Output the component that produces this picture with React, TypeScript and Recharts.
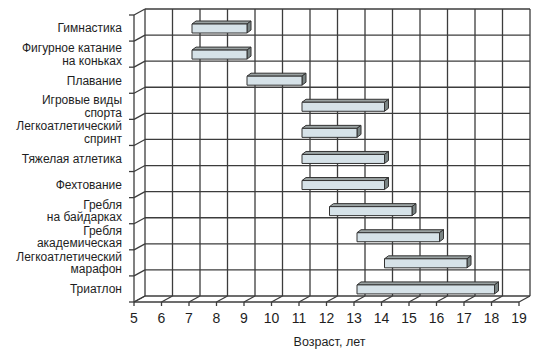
import React from "react";
import { Bar, BarChart, CartesianGrid, XAxis, YAxis } from "recharts";

const sports = [
  "Гимнастика",
  "Фигурное катание\nна коньках",
  "Плавание",
  "Игровые виды\nспорта",
  "Легкоатлетический\nспринт",
  "Тяжелая атлетика",
  "Фехтование",
  "Гребля\nна байдарках",
  "Гребля\nакадемическая",
  "Легкоатлетический\nмарафон",
  "Триатлон",
];
const startAges = [7, 7, 9, 11, 11, 11, 11, 12, 13, 14, 13];
const endAges = [9, 9, 11, 14, 13, 14, 14, 15, 16, 17, 18];
const ageTicks = [5, 6, 7, 8, 9, 10, 11, 12, 13, 14, 15, 16, 17, 18, 19];

const data = sports.map((name, i) => ({ name, from: startAges[i], to: endAges[i] }));

// depth of the fake 3d box
const DX = 11;
const DY = -6;
const LINE = "#3c3c3c";
const FONT = "'Liberation Sans', Arial, sans-serif";

function CategoryTick(props: any) {
  const { x, y, payload } = props;
  const lines = String(payload.value).split("\n");
  const lh = 12.5;
  const first = y - ((lines.length - 1) * lh) / 2;
  return (
    <text x={x} y={first} textAnchor="end" fontSize={12} fontFamily={FONT} fill="#1e1e1e">
      {lines.map((l, i) => (
        <tspan key={i} x={x} y={first + i * lh} dy="0.36em">
          {l}
        </tspan>
      ))}
    </text>
  );
}

function BoxBar(props: any) {
  const { x, y, width, height } = props;
  if (!width) return null;
  const fx = x + 3;
  const d = 4;
  return (
    <g stroke="#333" strokeWidth={1} strokeLinejoin="round">
      <polygon
        points={`${fx},${y} ${fx + width},${y} ${fx + width + d},${y - 3} ${fx + d},${y - 3}`}
        fill="#9aa2a2"
      />
      <polygon
        points={`${fx + width},${y} ${fx + width + d},${y - 3} ${fx + width + d},${y + height - 3} ${fx + width},${y + height}`}
        fill="#7a8484"
      />
      <rect x={fx} y={y} width={width} height={height} fill="#d6e2e8" />
    </g>
  );
}

function rowLine(p: any) {
  const { x1, x2, y1 } = p;
  return (
    <g key={`h-${p.index}`} stroke={LINE} strokeWidth={1.3}>
      <line x1={x1 + DX} y1={y1 + DY} x2={x2 + DX} y2={y1 + DY} />
      <line x1={x1} y1={y1} x2={x1 + DX} y2={y1 + DY} />
      <line x1={x1 - 5} y1={y1} x2={x1} y2={y1} />
    </g>
  );
}

function ageLine(p: any) {
  const { x1, y1, y2 } = p;
  return (
    <g key={`v-${p.index}`} stroke={LINE} strokeWidth={1.3}>
      <line x1={x1 + DX} y1={y1 + DY} x2={x1 + DX} y2={y2 + DY} />
      <line x1={x1} y1={y2} x2={x1 + DX} y2={y2 + DY} />
    </g>
  );
}

export default function App() {
  return (
    <div style={{ position: "absolute", left: 0, top: 0, background: "#fff" }}>
      <BarChart
        width={541}
        height={355}
        data={data}
        layout="vertical"
        margin={{ top: 15, right: 22, bottom: 0, left: 0 }}
      >
        <CartesianGrid
          horizontal={rowLine}
          vertical={ageLine}
          horizontalCoordinatesGenerator={({ offset }: any) =>
            Array.from({ length: sports.length + 1 }, (_, i) => offset.top + (i * offset.height) / sports.length)
          }
        />
        <XAxis
          type="number"
          domain={[5, 19]}
          ticks={ageTicks}
          interval={0}
          height={53}
          tickSize={4}
          tickMargin={7}
          axisLine={{ stroke: LINE, strokeWidth: 1.3 }}
          tickLine={{ stroke: LINE, strokeWidth: 1.3 }}
          tick={{ fontSize: 14, fontFamily: FONT, fill: "#1e1e1e" }}
          label={{
            value: "Возраст, лет",
            position: "insideBottom",
            offset: 9,
            dx: 3,
            fontSize: 12.5,
            fontFamily: FONT,
            fill: "#1e1e1e",
          }}
        />
        <YAxis
          type="category"
          dataKey="name"
          width={134}
          tickLine={false}
          tickSize={0}
          tickMargin={12}
          interval={0}
          axisLine={{ stroke: LINE, strokeWidth: 1.3 }}
          tick={<CategoryTick />}
        />
        <Bar dataKey={(d: any) => [d.from, d.to]} barSize={9} shape={<BoxBar />} isAnimationActive={false} />
      </BarChart>
    </div>
  );
}
